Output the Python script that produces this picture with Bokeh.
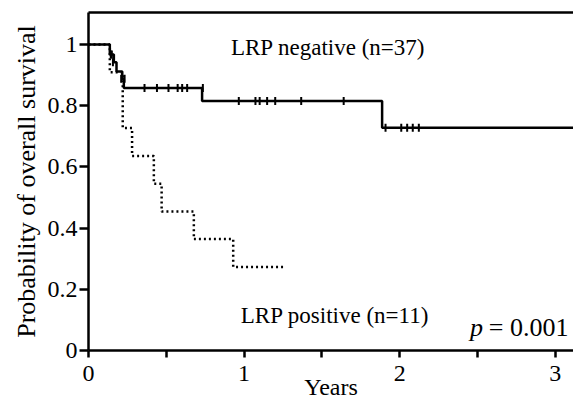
import math
from bokeh.plotting import figure
from bokeh.models import Range1d, FixedTicker, LinearAxis
from bokeh.core.properties import value
from bokeh.embed import file_html
from bokeh.resources import INLINE

# LRP negative (n=37) Kaplan-Meier steps
neg_time = [0, 0.137, 0.163, 0.18, 0.217, 0.227, 0.73, 1.887, 3.12]
neg_surv = [1, 0.967, 0.942, 0.912, 0.888, 0.858, 0.815, 0.728, 0.728]
neg_cens_time = [0.143, 0.15, 0.157, 0.21, 0.232,
                 0.36, 0.44, 0.514, 0.573, 0.602, 0.634, 0.735,
                 0.966, 1.073, 1.10, 1.148, 1.20, 1.367, 1.64,
                 1.909, 2.01, 2.048, 2.084, 2.123]
neg_cens_surv = [0.967, 0.967, 0.942, 0.888, 0.888,
                 0.858, 0.858, 0.858, 0.858, 0.858, 0.858, 0.858,
                 0.815, 0.815, 0.815, 0.815, 0.815, 0.815, 0.815,
                 0.728, 0.728, 0.728, 0.728, 0.728]

# LRP positive (n=11)
pos_time = [0, 0.137, 0.22, 0.28, 0.42, 0.47, 0.677, 0.93, 1.26]
pos_surv = [1, 0.909, 0.727, 0.636, 0.545, 0.454, 0.364, 0.273, 0.273]

x_ticks = [0, 0.5, 1, 1.5, 2, 2.5, 3]
x_labels = {0: "0", 0.5: "", 1: "1", 1.5: "", 2: "2", 2.5: "", 3: "3"}
y_ticks = [0, 0.2, 0.4, 0.6, 0.8, 1]
y_labels = {0: "0", 0.2: "0.2", 0.4: "0.4", 0.6: "0.6", 0.8: "0.8", 1: "1"}

FONT = "Liberation Serif"

p = figure(width=573, height=409, output_backend="svg", toolbar_location=None,
           x_range=Range1d(0, 3.117), y_range=Range1d(0, 1.1046),
           min_border_left=88, min_border_right=0, min_border_top=12,
           min_border_bottom=59)
p.background_fill_color = "white"
p.border_fill_color = "white"
p.outline_line_color = None
p.xgrid.visible = False
p.ygrid.visible = False

for ax in (p.xaxis[0], p.yaxis[0]):
    ax.axis_line_width = 2.5
    ax.axis_line_color = "black"
    ax.major_tick_line_width = 2.5
    ax.major_tick_line_color = "black"
    ax.major_tick_in = 0
    ax.minor_tick_line_color = None
    ax.major_label_text_font = FONT
    ax.major_label_text_color = "black"
    ax.axis_label_text_font = FONT
    ax.axis_label_text_font_style = "normal"
    ax.axis_label_text_color = "black"

xa = p.xaxis[0]
xa.ticker = FixedTicker(ticks=x_ticks)
xa.major_label_overrides = x_labels
xa.major_tick_out = 7
xa.major_label_standoff = 8
xa.major_label_text_font_size = "24px"
xa.axis_label = "Years"
xa.axis_label_text_font_size = "24px"
xa.axis_label_standoff = -10

ya = p.yaxis[0]
ya.ticker = FixedTicker(ticks=y_ticks)
ya.major_label_overrides = y_labels
ya.major_tick_out = 9
ya.major_label_standoff = 2
ya.major_label_text_font_size = "24px"
ya.axis_label = "Probability of overall survival"
ya.axis_label_text_font_size = "26px"
ya.axis_label_standoff = 4

top = LinearAxis(ticker=FixedTicker(ticks=[]), axis_line_width=2.5,
                 axis_line_color="black", major_tick_line_color=None,
                 minor_tick_line_color=None, major_tick_out=0, major_tick_in=0,
                 major_label_standoff=0, major_label_text_font_size="0px")
p.add_layout(top, "above")

p.step(pos_time, pos_surv, mode="after", line_color="black", line_width=2.5,
       line_dash="2 3")
p.step(neg_time, neg_surv, mode="after", line_color="black", line_width=2.5)
p.scatter(neg_cens_time, neg_cens_surv, marker="dash", angle=math.pi / 2,
          size=8, line_color="black", line_width=2)

p.text(x=[1.54], y=[0.99], text=["LRP negative (n=37)"], text_font=value(FONT),
       text_font_size="23px", text_align="center", text_baseline="middle",
       text_color="black")
p.text(x=[1.584], y=[0.114], text=["LRP positive (n=11)"], text_font=value(FONT),
       text_font_size="23px", text_align="center", text_baseline="middle",
       text_color="black")
p.text(x=[3.085], y=[0.075], text=["= 0.001"], text_font=value(FONT),
       text_font_size="26px", text_align="right", text_baseline="middle",
       text_color="black")
p.text(x=[2.535], y=[0.075], text=["p"], text_font=value(FONT),
       text_font_size="26px", text_font_style="italic", text_align="right",
       text_baseline="middle", text_color="black")

open("out.html", "w").write(file_html(p, INLINE))
